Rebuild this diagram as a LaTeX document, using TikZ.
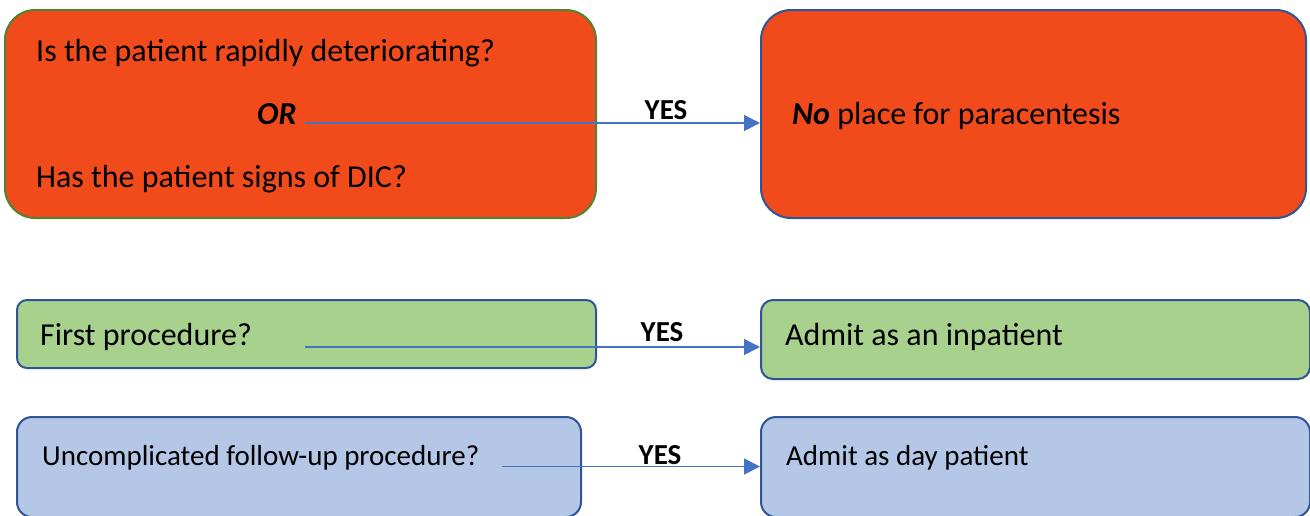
\documentclass[tikz,border=0pt]{standalone}
\usepackage{fontspec}
\setmainfont{Carlito}
\usetikzlibrary{arrows.meta,positioning}
\definecolor{alertRed}{RGB}{241,75,28}
\definecolor{edgeGreen}{RGB}{84,130,53}
\definecolor{edgeBlue}{RGB}{47,85,151}
\definecolor{inGreen}{RGB}{169,209,142}
\definecolor{dayBlue}{RGB}{180,199,231}
\definecolor{arrowBlue}{RGB}{68,114,196}
\tikzset{
  panel/.style={line width=2pt, inner sep=0pt},
  redpanel/.style={panel, fill=alertRed},
  greenpanel/.style={panel, fill=inGreen, draw=edgeBlue},
  bluepanel/.style={panel, fill=dayBlue, draw=edgeBlue},
  txt/.style={anchor=base west, inner sep=0pt, font=\fontsize{32}{38}\selectfont},
  smalltxt/.style={txt, font=\fontsize{29}{34}\selectfont},
  yes/.style={anchor=base, inner sep=0pt, font=\bfseries\fontsize{29}{34}\selectfont},
  arrow/.style={-{Triangle[length=16pt,width=16pt]}, line width=1.5pt, draw=arrowBlue}
}

\begin{document}
\begin{tikzpicture}[x=1pt, y=-1pt]
  \useasboundingbox (0,0) rectangle (1310,515);
  % boxes
  \node[redpanel, draw=edgeGreen, rounded corners=30pt, minimum width=591pt, minimum height=208pt] (qbox) at (300.5,114) {};
  \node[redpanel, draw=edgeBlue, rounded corners=30pt, minimum width=545pt, minimum height=208pt] (nobox) at (1033.5,114) {};
  \node[greenpanel, rounded corners=10pt, minimum width=579pt, minimum height=68pt] (firstbox) at (306.5,334) {};
  \node[greenpanel, rounded corners=12pt, minimum width=549pt, minimum height=79pt] (inbox) at (1035.5,339.5) {};
  \node[bluepanel, rounded corners=15pt, minimum width=564pt, minimum height=100pt] (followbox) at (299,467) {};
  \node[bluepanel, rounded corners=15pt, minimum width=549pt, minimum height=100pt] (daybox) at (1035.5,467) {};

  % texts
  \node[txt] (q1) at (36,61) {Is the patient rapidly deteriorating?};
  \node[txt, font=\bfseries\itshape\fontsize{32}{38}\selectfont] (or) at (257,124) {OR};
  \node[txt] (q2) at (36,187) {Has the patient signs of DIC?};
  \node[txt] (noplace) at (792,124) {\textbf{\textit{No}} place for paracentesis};
  \node[txt] (first) at (40,345) {First procedure?};
  \node[txt] (inpatient) at (785,345) {Admit as an inpatient};
  \node[smalltxt] (follow) at (42,465) {Uncomplicated follow-up procedure?};
  \node[smalltxt] (daypatient) at (786,465) {Admit as day patient};

  % arrows
  \coordinate (orTail) at (305,123);
  \coordinate (firstTail) at (305,347);
  \coordinate (followTail) at (502,466.5);
  \draw[arrow] (orTail) -- (orTail -| nobox.west);
  \draw[arrow] (firstTail) -- (firstTail -| inbox.west);
  \draw[arrow] (followTail) -- (followTail -| daybox.west);

  \node[yes] (yes1) at (666,119) {YES};
  \node[yes] (yes2) at (662,341) {YES};
  \node[yes] (yes3) at (660,464) {YES};
\end{tikzpicture}
\end{document}
